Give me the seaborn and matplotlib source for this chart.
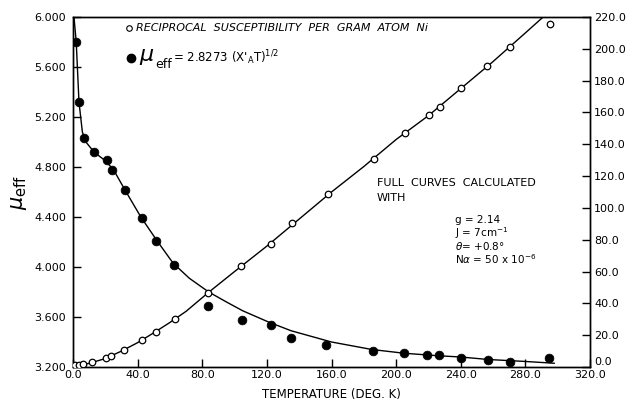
import numpy as np
import pandas as pd
import matplotlib
matplotlib.use("Agg")
import matplotlib.pyplot as plt
from matplotlib.ticker import FormatStrFormatter
import seaborn as sns

# measured points, mu_eff (left axis)
mu_T = [2.0, 3.7, 6.8, 13.0, 20.8, 24.3, 31.9, 42.4, 51.4, 62.5, 83.5, 104.3,
        122.4, 134.8, 156.6, 185.4, 205.0, 219.3, 226.5, 240.3, 256.8, 270.6, 294.6]
mu_val = [5.80, 5.32, 5.03, 4.92, 4.86, 4.78, 4.62, 4.39, 4.21, 4.02, 3.69, 3.58,
          3.54, 3.43, 3.38, 3.33, 3.31, 3.30, 3.30, 3.27, 3.26, 3.24, 3.27]

# calculated mu_eff curve
mu_curve_T = [0.6, 2, 3.7, 5.8, 8, 13, 20, 25, 32, 42, 52, 62, 72, 84, 95, 105,
              121, 135, 160, 185, 205, 226, 240, 257, 279, 298]
mu_curve = [6.0, 5.80, 5.32, 5.08, 5.00, 4.92, 4.85, 4.78, 4.62, 4.40, 4.21, 4.03,
            3.91, 3.80, 3.72, 3.65, 3.56, 3.49, 3.40, 3.34, 3.31, 3.29, 3.28, 3.26,
            3.245, 3.23]

# measured reciprocal susceptibility (right axis)
inv_T = [1.5, 3.5, 6.0, 11.9, 20.2, 23.3, 31.5, 42.4, 51.4, 63.0, 83.5, 104.1,
         122.4, 135.4, 157.6, 186.2, 205.3, 220.2, 227.0, 240.3, 256.2, 270.6, 295.3]
inv_val = [1.0, 1.0, 1.6, 3.0, 5.5, 6.9, 10.7, 16.8, 22.0, 30.0, 46.7, 63.5,
           77.3, 90.3, 108.6, 130.5, 146.9, 158.4, 163.6, 175.5, 189.0, 201.3, 215.4]

# calculated reciprocal susceptibility curve
inv_curve_T = [0, 5, 10, 20, 30, 40, 50, 60, 70, 84, 100, 120, 140, 160, 180, 200,
               220, 240, 260, 280, 291]
inv_curve = [0.8, 1.3, 2.3, 5.3, 10, 15.3, 21.5, 28, 35, 47, 60, 76, 93, 110, 126,
             143, 158, 175, 192, 210, 220]

x_ticks = np.arange(0, 321, 40)
left_ticks = np.arange(3.2, 6.01, 0.4)
right_ticks = np.arange(0, 221, 20)

sns.set_style("ticks")
plt.rcParams['font.family'] = ['DejaVu Sans']
plt.rcParams['mathtext.fontset'] = 'dejavusans'
plt.rcParams['text.color'] = 'black'
plt.rcParams['axes.labelcolor'] = 'black'
plt.rcParams['xtick.color'] = 'black'
plt.rcParams['ytick.color'] = 'black'

W, H = 628, 404
fig = plt.figure(figsize=(6.28, 4.04), dpi=100)
ax = fig.add_axes([73 / W, 1 - 367 / H, (590 - 73) / W, (367 - 17) / H])
ax2 = ax.twinx()

sns.lineplot(x=mu_curve_T, y=mu_curve, ax=ax, color="black", linewidth=1.0, sort=False)
sns.scatterplot(x=mu_T, y=mu_val, ax=ax, color="black", s=40, edgecolor="black",
                linewidth=0.5, zorder=5)

sns.lineplot(x=inv_curve_T, y=inv_curve, ax=ax2, color="black", linewidth=1.0, sort=False)
sns.scatterplot(x=inv_T, y=inv_val, ax=ax2, facecolor="white", edgecolor="black",
                s=22, linewidth=0.9, zorder=5)

ax.set_xlim(0, 320)
ax.set_ylim(3.2, 6.0)
ax2.set_ylim(0, 220)
ax.set_xticks(x_ticks)
ax.set_yticks(left_ticks)
ax2.set_yticks(right_ticks)
ax.xaxis.set_major_formatter(FormatStrFormatter("%.1f"))
ax.yaxis.set_major_formatter(FormatStrFormatter("%.3f"))
ax2.yaxis.set_major_formatter(FormatStrFormatter("%.1f"))

for a in (ax, ax2):
    for sp in a.spines.values():
        sp.set_visible(True)
        sp.set_color("black")
        sp.set_linewidth(1.0)
ax.tick_params(axis="both", direction="in", length=6, width=1, labelsize=8, colors="black")
ax.tick_params(axis="y", pad=5)
ax.tick_params(axis="x", pad=2)
ax2.tick_params(axis="y", direction="in", length=6, width=1, labelsize=8, pad=3,
                colors="black")
# lift the bottom right label a little, as in the original
ax2.get_yticklabels()[0].set_verticalalignment("bottom")

ax.set_xlabel("TEMPERATURE (DEG. K)", fontsize=8.5, labelpad=6)
ax.set_ylabel(r"$\mu_{\rm eff}$", fontsize=15, labelpad=4)
ax2.set_ylabel("")


def fx(px):
    return px / W


def fy(py):
    return 1 - py / H


# legend-like labels drawn as text
fig.text(fx(136), fy(28), "RECIPROCAL  SUSCEPTIBILITY  PER  GRAM  ATOM  Ni", fontsize=8,
         style="italic", va="center", ha="left")
fig.lines.append(plt.Line2D([fx(129)], [fy(28)], marker="o", markersize=4,
                            markerfacecolor="white", markeredgecolor="black",
                            markeredgewidth=0.8, transform=fig.transFigure))
fig.lines.append(plt.Line2D([fx(131)], [fy(58)], marker="o", markersize=6,
                            color="black", transform=fig.transFigure))
fig.text(fx(139), fy(57), r"$\mu$", fontsize=16, va="center", ha="left")
fig.text(fx(155), fy(64), "eff", fontsize=9, va="center", ha="left")
fig.text(fx(173), fy(58), r"= 2.8273 (X$'_{\rm A}$T)$^{1/2}$", fontsize=8.5,
         va="center", ha="left")

fig.text(fx(377), fy(183), "FULL  CURVES  CALCULATED", fontsize=8, va="center", ha="left")
fig.text(fx(377), fy(198), "WITH", fontsize=8, va="center", ha="left")
fig.text(fx(455), fy(220), "g = 2.14", fontsize=7.5, va="center", ha="left")
fig.text(fx(455), fy(233), r"J = 7cm$^{-1}$", fontsize=7.5, va="center", ha="left")
fig.text(fx(455), fy(246), r"$\theta$= +0.8°", fontsize=7.5, va="center", ha="left")
fig.text(fx(455), fy(259), r"N$\alpha$ = 50 x 10$^{-6}$", fontsize=7.5, va="center", ha="left")

fig.savefig("out.png", dpi=100, facecolor="white")
